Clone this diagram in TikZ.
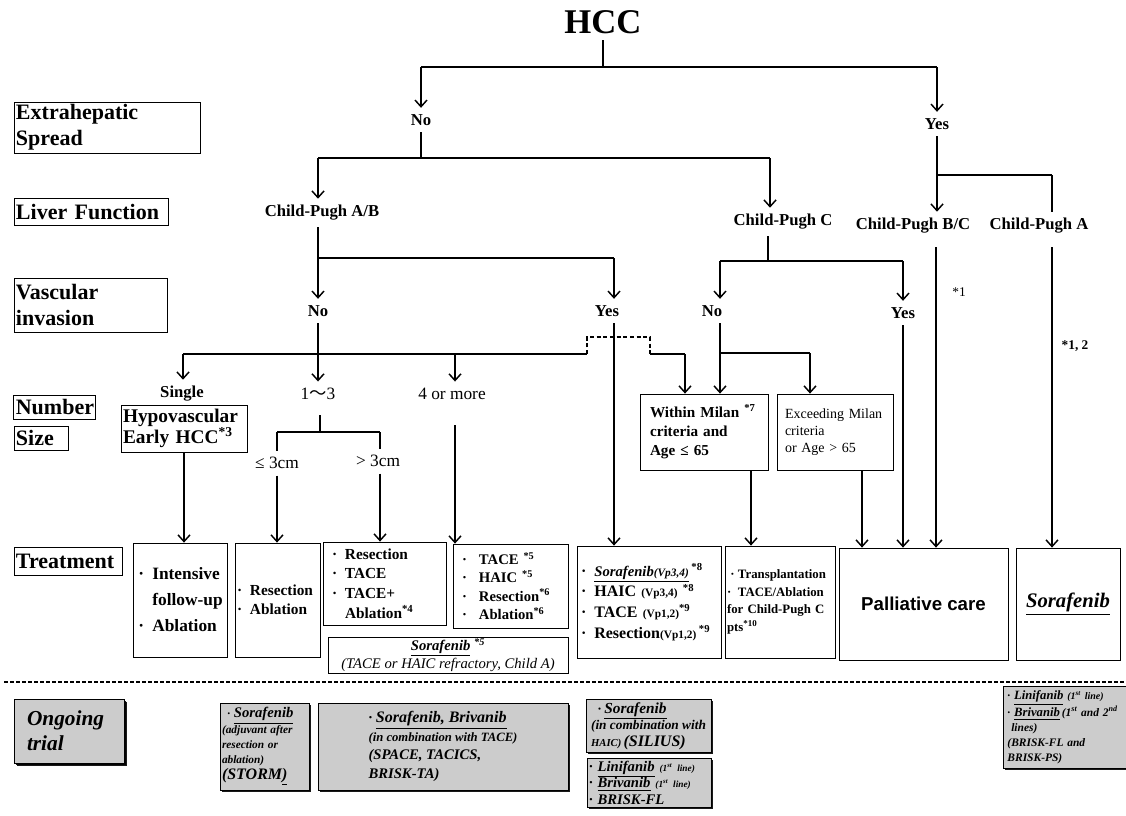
\documentclass[tikz,border=0pt]{standalone}
\usepackage{fontspec}
\setmainfont{Liberation Serif}
\newfontfamily\sansf{Liberation Sans}
\newfontfamily\cjk{Noto Sans CJK JP}
\usetikzlibrary{arrows.meta,shadows}
\newcommand\fs[2]{\fontsize{#1}{#2}\selectfont}
\newcommand\bl[1][10pt]{\makebox[#1][l]{\textperiodcentered}}
\newcommand\sm[2][9]{{\fontsize{#1}{11}\selectfont #2}}
\begin{document}
\begin{tikzpicture}[x=0.75pt,y=-0.75pt,
  ln/.style={line width=1.1pt},
  arr/.style={line width=1.1pt,-{Straight Barb[length=5pt,width=9pt]}},
  lab/.style={draw,line width=0.6pt,inner sep=1.5pt,align=left,font=\bfseries\fs{16.5}{19.5}},
  tl/.style={font=\bfseries\fs{12.5}{15},inner sep=1pt,outer sep=4pt},
  tlr/.style={font=\fs{13}{15},inner sep=1pt,outer sep=4pt},
  box/.style={draw,line width=0.6pt,inner ysep=2pt},
  gbox/.style={draw,line width=0.7pt,fill=gray!40,inner ysep=2pt,
     drop shadow={shadow xshift=1.2pt,shadow yshift=-1.2pt,fill=black,opacity=0.9}},
  note/.style={font=\bfseries\fs{10}{12},inner sep=1pt}]
\useasboundingbox (0,0) rectangle (1126,815);
\clip (0,0) rectangle (1126,815);
\fill[white] (0,0) rectangle (1126,815);

% ---------- left labels
\node[lab,minimum width=139.5pt,minimum height=38.25pt,text width=136.5pt] (l1) at (107,127.5) {Extrahepatic\\Spread};
\node[lab,minimum width=115.5pt,minimum height=20.25pt,text width=112.5pt] (l2) at (91,211.5) {Liver Function};
\node[lab,minimum width=114.75pt,minimum height=40.5pt,text width=111.75pt] (l3) at (90.5,305) {Vascular\\invasion};
\node[lab,minimum width=61pt,minimum height=18pt,text width=58pt] (l4) at (54.5,407) {Number};
\node[lab,minimum width=40.5pt,minimum height=18pt,text width=37.5pt] (l5) at (41,438) {Size};
\node[lab,minimum width=81pt,minimum height=21pt,text width=78pt] (l6) at (68,561) {Treatment};

% ---------- tree labels
\node[tl,font=\bfseries\fs{26}{30}] (hcc) at (603,22) {HCC};
\node[tl] (no1) at (421,120) {No};
\node[tl] (yes1) at (937,124) {Yes};
\node[tl] (cpab) at (322,213) {Child-Pugh A/B};
\node[tl] (cpc) at (783,222) {Child-Pugh C};
\node[tl] (cpbc) at (913,226) {Child-Pugh B/C};
\node[tl] (cpa) at (1039,226) {Child-Pugh A};
\node[tl] (no2) at (318,311) {No};
\node[tl] (yes2) at (607,311) {Yes};
\node[tl] (no3) at (712,311) {No};
\node[tl] (yes3) at (903,313) {Yes};
\node[tl] (single) at (182,394) {Single};
\node[tlr] (n13) at (318,394) {1{\cjk 〜}3};
\node[tlr] (n4) at (452,394) {4 or more};
\node[tlr] (le3) at (277,463) {≤ 3cm};
\node[tlr] (gt3) at (378,461) {> 3cm};
\node[note,font=\fs{10}{12}] (s1) at (959,292) {*1};
\node[note] (s12) at (1075,346) {*1, 2};

% ---------- boxes in the tree
\node[box,minimum width=94.5pt,minimum height=35.25pt,text width=91.5pt,inner xsep=1.5pt,align=left,font=\bfseries\fs{14.5}{15.75}] (hypo) at (184,428.5) {Hypovascular\\Early HCC\textsuperscript{*3}};
\node[box,minimum width=96pt,minimum height=57pt,text width=81pt,inner xsep=7.5pt,align=left,font=\bfseries\fs{11.4}{14.6}] (milan) at (704,432) {Within Milan \textsuperscript{*7}\\criteria and\\Age ≤ 65};
\node[box,minimum width=87pt,minimum height=57pt,text width=75pt,inner xsep=6pt,align=left,font=\fs{10.5}{12.75}] (exc) at (835,432) {Exceeding Milan\\criteria\\or Age > 65};

% ---------- treatment boxes
\node[box,minimum width=70.5pt,minimum height=85.5pt,text width=62.5pt,inner xsep=4pt,align=left,font=\bfseries\fs{13}{19.5}] (t1) at (180,600) {\bl[10.5pt]Intensive\\\hspace*{10.5pt}\mbox{follow-up}\\\bl[10.5pt]Ablation};
\node[box,minimum width=63.75pt,minimum height=85.5pt,text width=60.75pt,inner xsep=1.5pt,align=left,font=\bfseries\fs{11.5}{14.5}] (t2) at (277.5,600) {\bl[9.75pt]Resection\\\bl[9.75pt]Ablation};
\node[box,minimum width=92.25pt,minimum height=62.25pt,text width=78.75pt,inner xsep=6.75pt,align=left,font=\bfseries\fs{11.5}{14.8}] (t3) at (384.5,583.5) {\bl[9.75pt]Resection\\\bl[9.75pt]TACE\\\bl[9.75pt]TACE+\\\hspace*{9.75pt}Ablation\textsuperscript{*4}};
\node[box,minimum width=86.25pt,minimum height=63pt,text width=72.75pt,inner xsep=6.75pt,align=left,font=\bfseries\fs{11}{13.7}] (t4) at (510.5,586) {\bl[12.75pt]TACE \textsuperscript{*5}\\\bl[12.75pt]HAIC \textsuperscript{*5}\\\bl[12.75pt]Resection\textsuperscript{*6}\\\bl[12.75pt]Ablation\textsuperscript{*6}};
\node[box,minimum width=180pt,minimum height=27pt,align=center,inner sep=1pt,font=\fs{11}{13.5}] (t5) at (448,655) {{\bfseries\itshape\underline{Sorafenib} \textsuperscript{*5}}\\{\itshape (TACE or HAIC refractory, Child A)}};
\node[box,minimum width=108pt,minimum height=84pt,text width=102pt,inner xsep=3pt,align=left,font=\bfseries\fs{12}{15.5}] (t6) at (649,602) {\bl[10pt]{\fs{11}{13}\itshape\underline{Sorafenib\sm[8.5]{(Vp3,4)}}}\,\textsuperscript{*8}\\\bl[10pt]HAIC \sm[8.5]{(Vp3,4)} \textsuperscript{*8}\\\bl[10pt]TACE \sm[8.5]{(Vp1,2)}\textsuperscript{*9}\\\bl[10pt]\mbox{Resection\sm[8.5]{(Vp1,2)}\,\textsuperscript{*9}}};
\node[box,minimum width=82.5pt,minimum height=84pt,text width=79.5pt,inner xsep=1.5pt,align=left,font=\bfseries\fs{9.6}{13.3}] (t7) at (780,602) {\makebox[8.25pt][c]{\textperiodcentered}Transplantation\\\bl[8.25pt]TACE/Ablation\\for Child-Pugh C\\pts\textsuperscript{*10}};
\node[box,minimum width=126.75pt,minimum height=84pt,font=\sansf\bfseries\fs{14}{16}] (t8) at (923.5,604) {Palliative care};
\node[box,minimum width=78pt,minimum height=84pt,font=\bfseries\itshape\fs{15.5}{18}] (t9) at (1068,604) {\underline{Sorafenib}};

% ---------- separator
\coordinate (dl) at (4,682);
\coordinate (dr) at (1126,682);
\draw[line width=0.8pt,dash pattern=on 3pt off 1.5pt] (dl) -- (dr);

% ---------- ongoing trials
\node[gbox,drop shadow={shadow xshift=2pt,shadow yshift=-2pt,fill=black,opacity=0.9},minimum width=82.5pt,minimum height=48pt,text width=63pt,inner xsep=9.75pt,align=left,font=\bfseries\itshape\fs{16}{19}] (g0) at (69,731) {Ongoing\\trial};
\node[gbox,minimum width=66.75pt,minimum height=65.25pt,text width=63.75pt,inner xsep=1.5pt,align=left,font=\bfseries\itshape\fs{8.5}{11.5}] (g1) at (264.5,746.5) {\hspace*{4pt}\textperiodcentered\ {\fs{11}{12}\underline{Sorafenib}}\\(adjuvant after\\resection or\\ablation)\\{\fs{12}{13}(STORM\underline{)}}};
\node[gbox,minimum width=187.5pt,minimum height=65.25pt,align=left,font=\bfseries\itshape\fs{11}{14}] (g2) at (443,746.5) {\textperiodcentered\ {\fs{12}{13}\underline{Sorafenib, Brivanib}}\\{\fs{9.5}{11}(in combination with TACE)}\\(SPACE, TACICS,\\BRISK-TA)};
\node[gbox,minimum width=93.75pt,minimum height=39pt,align=left,font=\bfseries\itshape\fs{10}{12.5}] (g3) at (648.5,726) {\hspace*{5pt}\textperiodcentered\ {\fs{11.5}{13}\underline{Sorafenib}}\\(in combination with\\{\fs{8}{10}HAIC)}\,{\fs{12}{13}(SILIUS)}};
\node[gbox,anchor=north,text width=90pt,inner xsep=1.5pt,inner ysep=2pt,align=left,font=\bfseries\itshape\fs{11}{12.3}] (g4) at (649,758) {\textperiodcentered\ \underline{Linifanib} {\fs{7}{8}(1\textsuperscript{st} line)}\\\textperiodcentered\ \underline{Brivanib} {\fs{7}{8}(1\textsuperscript{st} line)}\\\textperiodcentered\ BRISK-FL\\[6pt]};
\node[gbox,anchor=north west,text width=120pt,inner xsep=3pt,inner ysep=3pt,align=left,font=\bfseries\itshape\fs{8.6}{11.25}] (g5) at (1003,686) {\textperiodcentered\ {\fs{9.5}{11}\underline{Linifanib}} {\fs{7.5}{8}(1\textsuperscript{st} line)}\\\textperiodcentered\ {\fs{9.5}{11}\underline{Brivanib}}\,(1\textsuperscript{st} and 2\textsuperscript{nd}\\\ lines)\\(BRISK-FL and\\BRISK-PS)};

% ---------- connectors
\coordinate (j1) at (603,67);
\coordinate (j1l) at (421,67);
\coordinate (j1r) at (937,67);
\draw[ln] (hcc.south) -- (j1);
\draw[ln,line width=1.4pt] (j1l) -- (j1r);
\draw[arr] (j1l) -- (no1.north);
\draw[arr] (j1r) -- (yes1.north);

\coordinate (j2l) at (318,158);
\coordinate (j2r) at (770,158);
\draw[ln] (no1.south) -- (no1.south |- j2l);
\draw[ln,line width=1.4pt] (j2l) -- (j2r);
\draw[arr] (j2l) -- (j2l |- cpab.north);
\draw[arr] (j2r) -- (j2r |- cpc.north);

\coordinate (j3) at (937,175);
\coordinate (j3r) at (1052,175);
\draw[arr] (yes1.south) -- (yes1.south |- cpbc.north);
\draw[ln,line width=1.4pt] (j3) -- (j3r);
\draw[ln] (j3r) -- (j3r |- cpa.north);

\coordinate (v1) at (936,247);
\coordinate (v2) at (1052,247);
\draw[arr] (v1) -- (v1 |- t8.north);
\draw[arr] (v2) -- (v2 |- t9.north);

\coordinate (j4) at (768,261);
\coordinate (j4l) at (720,261);
\coordinate (j4r) at (903,261);
\draw[ln] (j4 |- cpc.south) -- (j4);
\draw[ln,line width=1.4pt] (j4l) -- (j4r);
\draw[arr] (j4l) -- (j4l |- no3.north);
\draw[arr] (j4r) -- (j4r |- yes3.north);

\coordinate (j5) at (720,353);
\coordinate (j5r) at (810,353);
\draw[arr] (j5 |- no3.south) -- (j5 |- milan.north);
\draw[ln,line width=1.4pt] (j5) -- (j5r);
\draw[arr] (j5r) -- (j5r |- exc.north);
\draw[arr] (yes3.south) -- (yes3.south |- t8.north);
\coordinate (mx) at (751,0);
\coordinate (ex) at (862,0);
\draw[arr] (milan.south -| mx) -- (mx |- t7.north);
\draw[arr] (exc.south -| ex) -- (ex |- t8.north);

\coordinate (j6) at (318,258);
\coordinate (j6r) at (614,258);
\draw[ln] (j6 |- cpab.south) -- (j6);
\draw[ln,line width=1.4pt] (j6) -- (j6r);
\draw[arr] (j6) -- (j6 |- no2.north);
\draw[arr] (j6r) -- (j6r |- yes2.north);
\draw[arr] (j6r |- yes2.south) -- (j6r |- t6.north);

\coordinate (j7l) at (183,354);
\coordinate (j7m) at (455,354);
\coordinate (j7a) at (587,354);
\coordinate (d1) at (587,337);
\coordinate (d2) at (650,337);
\coordinate (d3) at (650,354);
\coordinate (d4) at (685,354);
\draw[arr] (no2.south) -- (n13.north);
\draw[ln,line width=1.4pt] (j7l) -- (j7a);
\draw[arr] (j7l) -- (j7l |- single.north);
\draw[arr] (j7m) -- (j7m |- n4.north);
\draw[ln,dash pattern=on 3pt off 2pt] (j7a) -- (d1) -- (d2) -- (d3);
\draw[ln,line width=1.4pt] (d3) -- (d4);
\draw[arr] (d4) -- (d4 |- milan.north);

\draw[arr] (hypo.south) -- (hypo.south |- t1.north);

\coordinate (j8t) at (320,415);
\coordinate (j8) at (320,432);
\coordinate (j8l) at (277,432);
\coordinate (j8r) at (380,432);
\draw[ln] (j8t) -- (j8);
\draw[ln,line width=1.4pt] (j8l) -- (j8r);
\draw[ln] (j8l) -- (j8l |- le3.north);
\draw[ln] (j8r) -- (j8r |- gt3.north);
\draw[arr] (j8l |- le3.south) -- (j8l |- t2.north);
\draw[arr] (j8r |- gt3.south) -- (j8r |- t3.north);

\coordinate (n4s) at (455,425);
\draw[arr] (n4s) -- (n4s |- t4.north);
\end{tikzpicture}
\end{document}
